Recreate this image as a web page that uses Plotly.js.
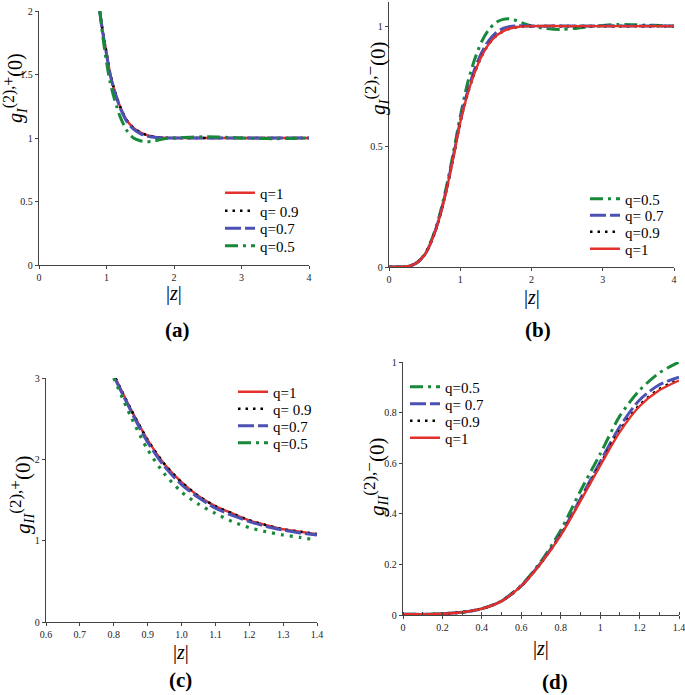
<!DOCTYPE html>
<html>
<head>
<meta charset="utf-8">
<script src="https://cdn.plot.ly/plotly-3.0.1.min.js"></script>
<style>html,body{margin:0;padding:0;background:#fff;}#chart{width:685px;height:695px;}</style>
</head>
<body>
<div id="chart"></div>
<script>
// ---------- Panel (a): g_I^(2),+(0) ----------
var zA = [0.9, 0.95, 1.0, 1.05, 1.1, 1.15, 1.2, 1.3, 1.4, 1.5, 1.6, 1.7, 1.8, 1.9, 2.0, 2.5, 3.0, 3.5, 4.0];
var aQ1  = [2.0, 1.82, 1.67, 1.52, 1.41, 1.325, 1.25, 1.14, 1.08, 1.045, 1.022, 1.01, 1.004, 1.001, 1.0, 1.0, 1.0, 1.0, 1.0];
var aQ09 = [2.0, 1.82, 1.67, 1.52, 1.41, 1.325, 1.25, 1.14, 1.08, 1.045, 1.022, 1.01, 1.004, 1.001, 1.0, 1.0, 1.0, 1.0, 1.0];
var aQ07 = [2.0, 1.81, 1.66, 1.51, 1.40, 1.315, 1.24, 1.13, 1.07, 1.035, 1.016, 1.006, 1.002, 1.0, 1.0, 1.0, 1.0, 1.0, 1.0];
var zA5  = [0.9, 0.95, 1.0, 1.05, 1.1, 1.15, 1.2, 1.3, 1.4, 1.5, 1.6, 1.7, 1.8, 1.9, 2.0, 2.25, 2.5, 2.75, 3.0, 3.25, 3.5, 3.75, 4.0];
var aQ05 = [2.0, 1.78, 1.60, 1.45, 1.34, 1.25, 1.17, 1.06, 1.0, 0.978, 0.97, 0.975, 0.988, 0.997, 1.0, 1.006, 1.01, 1.006, 1.0, 0.996, 0.995, 0.997, 1.0];

// ---------- Panel (b): g_I^(2),-(0) ----------
var zB = [0, 0.1, 0.2, 0.3, 0.4, 0.5, 0.6, 0.7, 0.8, 0.9, 1.0, 1.1, 1.2, 1.3, 1.4, 1.5, 1.6, 1.7, 1.8, 1.9, 2.0, 2.5, 3.0, 3.5, 4.0];
var bQ1  = [0, 0, 0.001, 0.005, 0.02, 0.05, 0.11, 0.195, 0.31, 0.45, 0.6, 0.715, 0.805, 0.875, 0.925, 0.958, 0.978, 0.99, 0.996, 0.999, 1.0, 1.0, 1.0, 1.0, 1.0];
var bQ09 = [0, 0, 0.001, 0.005, 0.02, 0.05, 0.11, 0.195, 0.31, 0.45, 0.6, 0.715, 0.805, 0.875, 0.925, 0.958, 0.978, 0.99, 0.996, 0.999, 1.0, 1.0, 1.0, 1.0, 1.0];
var bQ07 = [0, 0, 0.001, 0.005, 0.02, 0.05, 0.11, 0.197, 0.315, 0.455, 0.605, 0.725, 0.82, 0.89, 0.94, 0.972, 0.99, 0.998, 1.001, 1.001, 1.0, 1.0, 1.0, 1.0, 1.0];
var zB5 = [0, 0.1, 0.2, 0.3, 0.4, 0.5, 0.6, 0.7, 0.8, 0.9, 1.0, 1.1, 1.2, 1.3, 1.4, 1.5, 1.6, 1.7, 1.8, 1.9, 2.0, 2.2, 2.4, 2.6, 2.8, 3.0, 3.2, 3.4, 3.6, 3.8, 4.0];
var bQ05 = [0, 0, 0.001, 0.005, 0.02, 0.052, 0.115, 0.205, 0.325, 0.47, 0.625, 0.76, 0.86, 0.935, 0.985, 1.015, 1.028, 1.03, 1.022, 1.01, 1.0, 0.99, 0.986, 0.99, 0.997, 1.003, 1.007, 1.006, 1.004, 1.002, 1.0];

// ---------- Panel (c): g_II^(2),+(0) ----------
var zC = [0.805, 0.85, 0.9, 0.95, 1.0, 1.05, 1.1, 1.15, 1.2, 1.25, 1.3, 1.35, 1.4];
var cQ1  = [3.0, 2.62, 2.24, 1.94, 1.72, 1.55, 1.425, 1.335, 1.25, 1.19, 1.14, 1.11, 1.08];
var cQ09 = [3.0, 2.62, 2.24, 1.94, 1.72, 1.55, 1.425, 1.335, 1.25, 1.19, 1.14, 1.11, 1.08];
var cQ07 = [2.98, 2.60, 2.21, 1.91, 1.69, 1.53, 1.40, 1.31, 1.235, 1.175, 1.13, 1.095, 1.07];
var zC5  = [0.8, 0.85, 0.9, 0.95, 1.0, 1.05, 1.1, 1.15, 1.2, 1.25, 1.3, 1.35, 1.38];
var cQ05 = [3.0, 2.53, 2.12, 1.82, 1.60, 1.45, 1.335, 1.235, 1.16, 1.11, 1.07, 1.04, 1.02];

// ---------- Panel (d): g_II^(2),-(0) ----------
var zD = [0, 0.1, 0.2, 0.3, 0.4, 0.5, 0.6, 0.7, 0.8, 0.9, 1.0, 1.1, 1.2, 1.3, 1.4];
var dQ1  = [0.003, 0.003, 0.005, 0.011, 0.025, 0.055, 0.115, 0.205, 0.315, 0.45, 0.59, 0.724, 0.825, 0.888, 0.927];
var dQ09 = [0.003, 0.003, 0.005, 0.011, 0.025, 0.055, 0.115, 0.205, 0.317, 0.453, 0.595, 0.73, 0.83, 0.893, 0.93];
var dQ07 = [0.003, 0.003, 0.005, 0.011, 0.025, 0.055, 0.115, 0.207, 0.32, 0.46, 0.605, 0.745, 0.85, 0.91, 0.94];
var dQ05 = [0.003, 0.003, 0.005, 0.011, 0.025, 0.056, 0.118, 0.212, 0.335, 0.49, 0.636, 0.787, 0.888, 0.957, 1.0];

// tick labels
var tickA_x = [0, 1, 2, 3, 4], tickA_y = [0, 0.5, 1, 1.5, 2];
var tickB_x = [0, 1, 2, 3, 4], tickB_y = [0, 0.5, 1];
var tickC_x = [0.6, 0.7, 0.8, 0.9, 1.0, 1.1, 1.2, 1.3, 1.4];
var tickC_xText = ['0.6', '0.7', '0.8', '0.9', '1.0', '1.1', '1.2', '1.3', '1.4'];
var tickC_y = [0, 1, 2, 3];
var tickD_x = [0, 0.2, 0.4, 0.6, 0.8, 1, 1.2, 1.4];
var tickD_y = [0, 0.2, 0.4, 0.6, 0.8, 1];

var namesAC = ['q=1', 'q= 0.9', 'q=0.7', 'q=0.5'];
var namesBD = ['q=0.5', 'q= 0.7', 'q=0.9', 'q=1'];

// styles
var RED = '#e3302b', BLACK = '#000000', BLUE = '#4b52b3', GREEN = '#18883a';
var sRed   = {color: RED, width: 2.4, dash: 'solid'};
var sBlack = {color: BLACK, width: 2.6, dash: '2.5px,5px'};
var sBlue  = {color: BLUE, width: 3, dash: '16px,4px'};
var sGreen = {color: GREEN, width: 3, dash: '13px,5px,3px,5px'};
var sGreenDot = {color: GREEN, width: 3.2, dash: '3px,6px'};

var W = 685, H = 695;
function px(v) { return v / W; }
function py(v) { return 1 - v / H; }
var SERIF = 'Liberation Serif, Times New Roman, serif';
var tickFont = {family: SERIF, size: 10, color: '#222'};

var legends = {};
var legendCount = 0;
// one legend per entry so that the row spacing matches the reference
function makeLegend(textX, rowY) {
  legendCount++;
  var key = legendCount === 1 ? 'legend' : 'legend' + legendCount;
  legends[key] = {x: px(textX - 37), y: py(rowY), xanchor: 'left', yanchor: 'middle',
    bgcolor: 'rgba(0,0,0,0)', borderwidth: 0, itemwidth: 30,
    font: {family: SERIF, size: 15, color: '#000'}};
  return key;
}

function tr(x, y, ax, lg, name, st, show) {
  return {x: x, y: y, xaxis: 'x' + ax, yaxis: 'y' + ax, legend: lg, name: name,
    type: 'scatter', mode: 'lines', showlegend: show !== false,
    line: {color: st.color, width: st.width, dash: st.dash, shape: 'spline', smoothing: 0.8},
    hoverinfo: 'skip'};
}

var data = [
  // (a)
  tr(zA, aQ1, '', makeLegend(257, 193), namesAC[0], sRed),
  tr(zA, aQ09, '', makeLegend(257, 211), namesAC[1], sBlack),
  tr(zA, aQ07, '', makeLegend(257, 228.5), namesAC[2], sBlue),
  tr(zA5, aQ05, '', makeLegend(257, 246), namesAC[3], sGreen),
  // (b)
  tr(zB5, bQ05, '2', makeLegend(622, 199), namesBD[0], sGreen),
  tr(zB, bQ07, '2', makeLegend(622, 215.5), namesBD[1], sBlue),
  tr(zB, bQ09, '2', makeLegend(622, 232), namesBD[2], sBlack),
  tr(zB, bQ1, '2', makeLegend(622, 249), namesBD[3], sRed),
  // (c)
  tr(zC, cQ1, '3', makeLegend(270, 392), namesAC[0], sRed),
  tr(zC, cQ09, '3', makeLegend(270, 409), namesAC[1], sBlack),
  tr(zC, cQ07, '3', makeLegend(270, 426), namesAC[2], sBlue),
  tr(zC5, cQ05, '3', 'legend', namesAC[3], sGreenDot, false),
  tr([null], [null], '3', makeLegend(270, 443), namesAC[3], sGreen),
  // (d)
  tr(zD, dQ05, '4', makeLegend(442, 387), namesBD[0], sGreen),
  tr(zD, dQ07, '4', makeLegend(442, 404), namesBD[1], sBlue),
  tr(zD, dQ09, '4', makeLegend(442, 421), namesBD[2], sBlack),
  tr(zD, dQ1, '4', makeLegend(442, 438), namesBD[3], sRed)
];

function axis(dom, range, anchor, extra) {
  var a = {domain: dom, range: range, anchor: anchor, showline: true, linecolor: '#444', linewidth: 1.3,
    ticks: 'outside', ticklen: 3, tickwidth: 1, tickcolor: '#444', tickfont: tickFont,
    ticklabeloverflow: 'allow', showgrid: false, zeroline: false, fixedrange: true};
  for (var k in extra) a[k] = extra[k];
  return a;
}

function ann(text, x, y, size, extra) {
  var a = {text: text, x: px(x), y: py(y), xref: 'paper', yref: 'paper', showarrow: false,
    xanchor: 'center', yanchor: 'middle', font: {family: SERIF, size: size, color: '#000'}};
  for (var k in extra) a[k] = extra[k];
  return a;
}

function ylab(sub, sign, supSize) {
  return '<i>g</i><sub><i>' + sub + '</i></sub><sup><span style="font-size:' + supSize + 'px">(2),' + sign +
    '</span></sup>(0)';
}

var layout = {
  width: W, height: H, margin: {l: 0, r: 0, t: 0, b: 0},
  paper_bgcolor: '#fff', plot_bgcolor: '#fff', hovermode: false,
  xaxis:  axis([px(39), px(309)], [0, 4], 'y', {tickvals: tickA_x}),
  yaxis:  axis([py(265), py(11)], [0, 2], 'x', {tickvals: tickA_y}),
  xaxis2: axis([px(389), px(674)], [0, 4], 'y2', {tickvals: tickB_x}),
  yaxis2: axis([py(267), py(2)], [0, 1.1], 'x2', {tickvals: tickB_y}),
  xaxis3: axis([px(46), px(317)], [0.6, 1.4], 'y3', {tickvals: tickC_x, ticktext: tickC_xText}),
  yaxis3: axis([py(622), py(378)], [0, 3], 'x3', {tickvals: tickC_y}),
  xaxis4: axis([px(403), px(679)], [0, 1.4], 'y4', {tickvals: tickD_x, minor: {dtick: 0.1, ticks: 'inside', ticklen: 3, tickcolor: '#444'}}),
  yaxis4: axis([py(615), py(362)], [0, 1], 'x4', {tickvals: tickD_y}),
  annotations: [
    ann('<b>(a)</b>', 177, 330, 21),
    ann('<b>(b)</b>', 538, 330, 21),
    ann('<b>(c)</b>', 180, 680, 21),
    ann('<b>(d)</b>', 555, 682, 21),
    ann('|<i>z</i>|', 174, 293, 20),
    ann('|<i>z</i>|', 532, 298, 20),
    ann('|<i>z</i>|', 181, 652, 20),
    ann('|<i>z</i>|', 541, 648, 20),
    ann(ylab('I', '+', 16), 15, 88, 20, {textangle: -90}),
    ann(ylab('I', '\u2212', 17), 376, 78, 21, {textangle: -90}),
    ann(ylab('II', '+', 17), 21, 495, 21, {textangle: -90}),
    ann(ylab('II', '\u2212', 17), 375, 477, 21, {textangle: -90})
  ]
};
for (var key in legends) layout[key] = legends[key];

Plotly.newPlot('chart', data, layout, {staticPlot: true, displayModeBar: false});
</script>
</body>
</html>
